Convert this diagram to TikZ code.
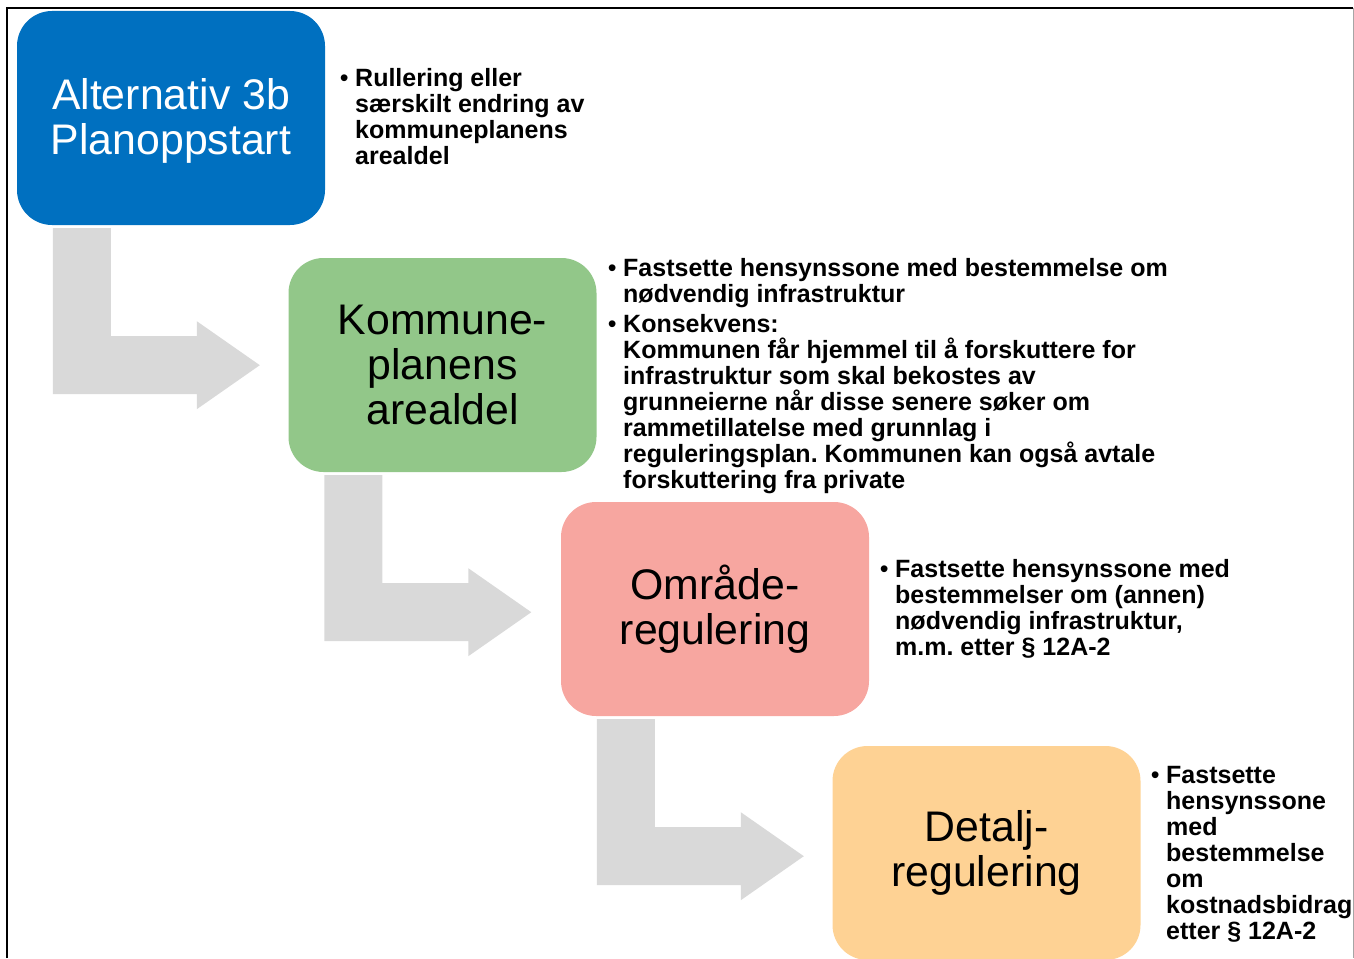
\documentclass[tikz,border=0pt]{standalone}
\usepackage{fontspec}
\setmainfont{Liberation Sans}
\frenchspacing
\definecolor{boxblue}{RGB}{0,112,192}
\definecolor{boxgreen}{RGB}{146,199,137}
\definecolor{boxpink}{RGB}{247,166,160}
\definecolor{boxorange}{RGB}{254,210,148}
\definecolor{arrowgray}{RGB}{217,217,217}
\newcommand{\bul}{\leavevmode\llap{{\mdseries\textbullet}\hspace{6.5pt}}}
\newcommand{\bentarrow}[1]{%
  \fill[arrowgray] ([shift={(36,3)}]#1.south west) -- ++(58,0) -- ++(0,108)
    -- ++(86,0) -- ++(0,-15) -- ++(63,44) -- ++(-63,44) -- ++(0,-15)
    -- ++(-144,0) -- cycle;}
\tikzset{
  stagebox/.style={rounded corners=35pt, minimum width=308pt, minimum height=214pt,
    inner sep=0pt, align=center, font=\fontsize{42.8}{45}\selectfont},
  notetext/.style={anchor=base west, inner sep=0pt},
}
\begin{document}
\begin{tikzpicture}[x=1pt,y=-1pt]
\useasboundingbox (0,0) rectangle (1354,958);
% frame
\draw[line width=2.5pt] (7,958) -- (7,8) -- (1353,8);
\draw[gray!70, line width=1pt] (1353,8) -- (1353,958);
% stage boxes
\node[stagebox, fill=boxblue, text=white] (b1) at (171,118) {\rule{0pt}{37pt}Alternativ 3b\\Planoppstart};
\node[stagebox, fill=boxgreen] (b2) at (442.5,365) {Kommune-\\planens\\arealdel};
\node[stagebox, fill=boxpink] (b3) at (715,609) {Område-\\regulering};
\node[stagebox, fill=boxorange] (b4) at (986.5,853) {Detalj-\\regulering};
% bent arrows
\bentarrow{b1}
\bentarrow{b2}
\bentarrow{b3}
% notes
\node[notetext] (n1) at (355,86) {\begin{minipage}[t]{300pt}\fontsize{25}{26}\selectfont\bfseries\raggedright
\bul Rullering eller\\særskilt endring av\\kommuneplanens\\arealdel\end{minipage}};
\node[notetext] (n2) at (623,276) {\begin{minipage}[t]{700pt}\fontsize{25}{26}\selectfont\bfseries\raggedright
\bul Fastsette hensynssone med bestemmelse om\\nødvendig infrastruktur\par\vspace{4pt}
\bul Konsekvens:\\Kommunen får hjemmel til å forskuttere for\\infrastruktur som skal bekostes av\\grunneierne når disse senere søker om\\rammetillatelse med grunnlag i\\reguleringsplan. Kommunen kan også avtale\\forskuttering fra private\end{minipage}};
\node[notetext] (n3) at (895,577) {\begin{minipage}[t]{450pt}\fontsize{25}{26}\selectfont\bfseries\raggedright
\bul Fastsette hensynssone med\\bestemmelser om (annen)\\nødvendig infrastruktur,\\m.m. etter § 12A-2\end{minipage}};
\node[notetext] (n4) at (1166,783) {\begin{minipage}[t]{300pt}\fontsize{25}{26}\selectfont\bfseries\raggedright
\bul Fastsette\\hensynssone\\med\\bestemmelse\\om\\kostnadsbidrag\\etter § 12A-2\end{minipage}};
\end{tikzpicture}
\end{document}
